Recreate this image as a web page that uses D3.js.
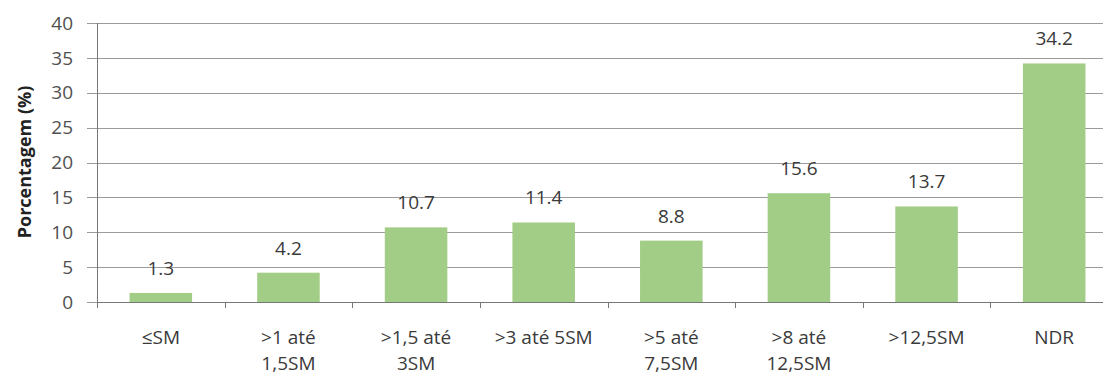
<!DOCTYPE html>
<html>
<head>
<meta charset="utf-8">
<script src="https://cdn.jsdelivr.net/npm/d3@7"></script>
<style>
  body { margin: 0; background: #fff; }
  text { font-family: "Open Sans", sans-serif; fill: #3a3a3a; }
</style>
</head>
<body>
<svg id="chart" width="1103" height="376"></svg>
<script>
// categories and values
const categories = ["≤SM", ">1 até|1,5SM", ">1,5 até|3SM", ">3 até 5SM", ">5 até|7,5SM", ">8 até|12,5SM", ">12,5SM", "NDR"];
const values = [1.3, 4.2, 10.7, 11.4, 8.8, 15.6, 13.7, 34.2];
const yTicks = [0, 5, 10, 15, 20, 25, 30, 35, 40];

const svg = d3.select("#chart");
const plotLeft = 97, plotRight = 1118, plotTop = 23, plotBottom = 302;
const fontSize = "19px";

const x = d3.scaleBand()
  .domain(categories)
  .range([plotLeft, plotRight])
  .paddingInner(0.51)
  .paddingOuter(0.255);

const y = d3.scaleLinear().domain([0, 40]).range([plotBottom, plotTop]);

// gridlines + y ticks
svg.append("g")
  .selectAll("line")
  .data(yTicks)
  .join("line")
  .attr("x1", plotLeft - 10)
  .attr("x2", 1103)
  .attr("y1", d => Math.round(y(d)) + 0.5)
  .attr("y2", d => Math.round(y(d)) + 0.5)
  .attr("stroke", "#9a9a9a")
  .attr("stroke-width", 1.2);

svg.append("g")
  .selectAll("text")
  .data(yTicks)
  .join("text")
  .attr("x", 73)
  .attr("y", d => y(d))
  .attr("dy", "0.35em")
  .attr("text-anchor", "end")
  .style("font-size", fontSize)
  .style("fill", "#505050")
  .text(d => d);

// bars
svg.append("g")
  .selectAll("rect")
  .data(values)
  .join("rect")
  .attr("x", (d, i) => x(categories[i]))
  .attr("width", x.bandwidth())
  .attr("y", d => y(d))
  .attr("height", d => plotBottom - y(d))
  .attr("fill", "#a2cd86");

// value labels
svg.append("g")
  .selectAll("text")
  .data(values)
  .join("text")
  .attr("x", (d, i) => x(categories[i]) + x.bandwidth() / 2)
  .attr("y", d => y(d) - 18)
  .attr("text-anchor", "middle")
  .style("font-size", fontSize)
  .text(d => d.toFixed(1));

// axes lines
svg.append("line")
  .attr("x1", plotLeft + 0.5).attr("x2", plotLeft + 0.5)
  .attr("y1", plotTop).attr("y2", plotBottom + 5)
  .attr("stroke", "#777");

svg.append("line")
  .attr("x1", plotLeft).attr("x2", 1103)
  .attr("y1", plotBottom + 0.5).attr("y2", plotBottom + 0.5)
  .attr("stroke", "#777");

// x tick marks between categories
const bandStep = (plotRight - plotLeft) / categories.length;
svg.append("g")
  .selectAll("line")
  .data(d3.range(categories.length + 1))
  .join("line")
  .attr("x1", i => Math.round(plotLeft + i * bandStep) + 0.5)
  .attr("x2", i => Math.round(plotLeft + i * bandStep) + 0.5)
  .attr("y1", plotBottom)
  .attr("y2", plotBottom + 6)
  .attr("stroke", "#777");

// x labels
const xl = svg.append("g")
  .selectAll("text")
  .data(categories)
  .join("text")
  .attr("x", d => x(d) + x.bandwidth() / 2)
  .attr("y", 344)
  .attr("text-anchor", "middle")
  .style("font-size", fontSize);

xl.each(function(d) {
  const parts = d.split("|");
  const t = d3.select(this);
  parts.forEach((p, i) => {
    t.append("tspan")
      .attr("x", t.attr("x"))
      .attr("dy", i === 0 ? 0 : 26)
      .text(p);
  });
});

// y axis title
svg.append("text")
  .attr("transform", "translate(31,162) rotate(-90)")
  .attr("text-anchor", "middle")
  .style("font-size", "18px")
  .style("font-weight", "bold")
  .style("fill", "#222")
  .text("Porcentagem (%)");
</script>
</body>
</html>
